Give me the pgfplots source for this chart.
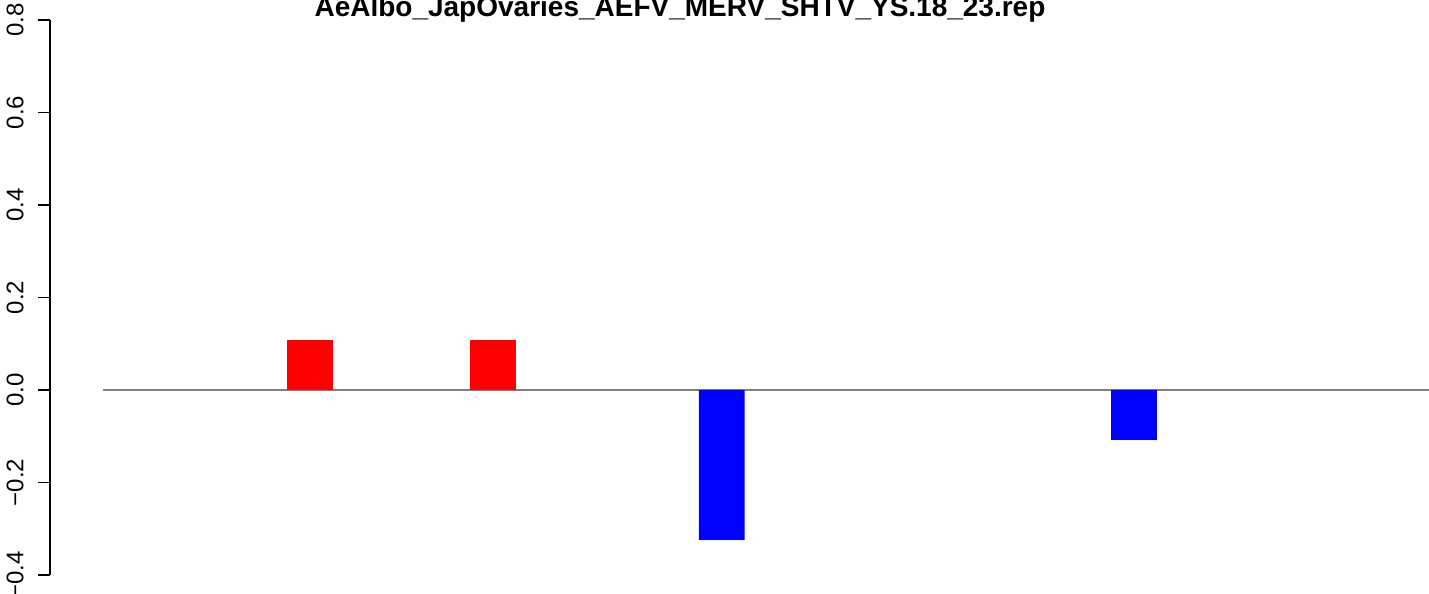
\documentclass[border=0pt]{standalone}
\usepackage{pgfplots}
\pgfplotsset{compat=1.18}
\usepackage{fontspec}
\setmainfont{Liberation Sans}

% one pixel of the reference = 0.5bp
\begin{document}
\begin{tikzpicture}
\begin{axis}[
    scale only axis,
    width=689.5bp, height=277.5bp,
    xmin=50, xmax=1429,
    ymin=-0.4, ymax=0.8,
    axis x line=none,
    axis y line*=left,
    y axis line style={line width=0.7bp},
    ytick={-0.4,-0.2,0,0.2,0.4,0.6,0.8},
    yticklabels={−0.4,−0.2,0.0,0.2,0.4,0.6,0.8},
    tick align=outside,
    major tick length=6bp,
    every tick/.style={black, line width=0.7bp},
    yticklabel style={rotate=90, anchor=south, inner sep=0pt, font=\fontsize{12bp}{14bp}\selectfont},
    yticklabel shift=7bp,
    clip=false,
]
\addplot[gray, line width=0.7bp, no marks] coordinates {(103,0) (1429,0)};
\addplot[ybar, bar width=22.85bp, fill=red, draw=none] coordinates {(310,0.108) (492.9,0.108)};
\addplot[ybar, bar width=22.85bp, fill=blue, draw=none] coordinates {(721.8,-0.324) (1134,-0.108)};
\node[anchor=base, font=\fontsize{14bp}{16bp}\selectfont\bfseries] at (axis cs:680,0.8065)
    {AeAlbo\_JapOvaries\_AEFV\_MERV\_SHTV\_YS.18\_23.rep};
\coordinate (bl) at (axis cs:0,-0.4411);
\coordinate (tr) at (axis cs:1429,0.8432);
\end{axis}
\pgfresetboundingbox
\path[use as bounding box] (bl) rectangle (tr);
\end{tikzpicture}
\end{document}
